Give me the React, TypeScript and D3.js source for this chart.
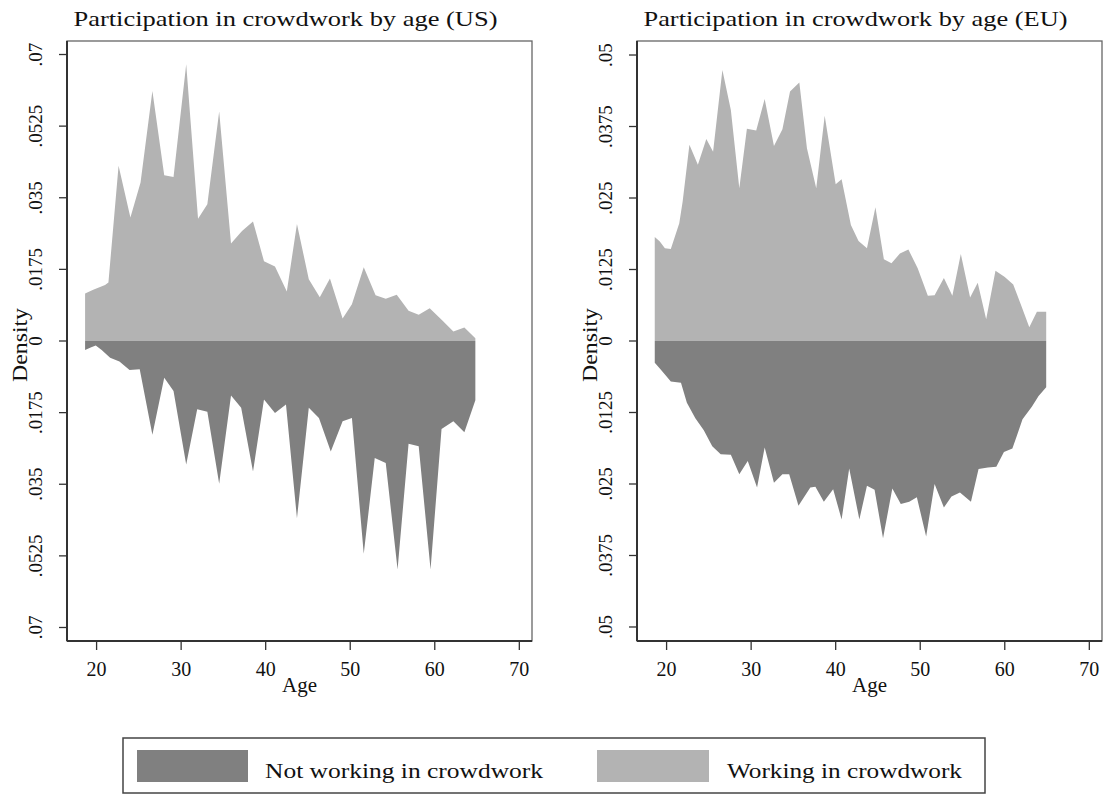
import React from 'react';
import * as d3 from 'd3';

// ---------- DATA ----------
const panelTitles = ['Participation in crowdwork by age (US)', 'Participation in crowdwork by age (EU)'];
const legendLabels = ['Not working in crowdwork', 'Working in crowdwork'];
const xTicks = [20, 30, 40, 50, 60, 70];

const usWorkAges = [18.64, 19.6, 21.0, 21.4, 22.6, 24.0, 25.2, 26.6, 28.0, 29.1, 30.6, 32.0, 33.1, 34.5, 35.9, 37.2, 38.5, 39.8, 41.1, 42.5, 43.7, 45.1, 46.4, 47.6, 49.1, 50.2, 51.6, 53.0, 54.2, 55.5, 56.9, 58.1, 59.4, 60.9, 62.2, 63.5, 64.8];
const usWorking = [0.0116, 0.0125, 0.0137, 0.0143, 0.0428, 0.0302, 0.0387, 0.0611, 0.0405, 0.0401, 0.0676, 0.0299, 0.0334, 0.0561, 0.0238, 0.0269, 0.0292, 0.0195, 0.0182, 0.0121, 0.0286, 0.0151, 0.0107, 0.0153, 0.0055, 0.0090, 0.0180, 0.0112, 0.0103, 0.0113, 0.0074, 0.0064, 0.0080, 0.0050, 0.0023, 0.0033, 0.0007];

const usNotAges = [18.64, 19.3, 19.9, 20.6, 21.6, 22.7, 23.9, 25.1, 26.6, 28.0, 29.1, 30.6, 31.9, 33.1, 34.5, 35.9, 37.1, 38.5, 39.8, 41.1, 42.4, 43.7, 45.1, 46.3, 47.7, 49.1, 50.2, 51.6, 52.9, 54.2, 55.6, 56.9, 58.1, 59.5, 60.8, 62.2, 63.5, 64.8];
const usNotWorking = [0.0022, 0.0016, 0.0011, 0.0022, 0.0041, 0.0050, 0.0071, 0.0069, 0.0229, 0.0090, 0.0122, 0.0302, 0.0167, 0.0173, 0.0349, 0.0133, 0.0163, 0.0319, 0.0143, 0.0176, 0.0155, 0.0433, 0.0163, 0.0188, 0.0270, 0.0196, 0.0188, 0.0520, 0.0286, 0.0298, 0.0558, 0.0251, 0.0257, 0.0558, 0.0215, 0.0196, 0.0223, 0.0145];

const euWorkAges = [18.6, 19.2, 19.8, 20.5, 21.5, 21.9, 22.7, 23.7, 24.7, 25.5, 26.6, 27.6, 28.6, 29.5, 30.6, 31.6, 32.7, 33.7, 34.6, 35.7, 36.6, 37.7, 38.7, 40.0, 40.7, 41.8, 42.7, 43.7, 44.7, 45.7, 46.6, 47.6, 48.6, 49.7, 50.9, 51.7, 52.8, 53.8, 54.8, 55.9, 56.8, 57.8, 58.9, 60.0, 61.0, 62.0, 62.9, 63.8, 64.9];
const euWorking = [0.0182, 0.0174, 0.0162, 0.0161, 0.0206, 0.0244, 0.0343, 0.0308, 0.0353, 0.0331, 0.0474, 0.0404, 0.0267, 0.0371, 0.0368, 0.0423, 0.0341, 0.0370, 0.0436, 0.0452, 0.0337, 0.0267, 0.0394, 0.0274, 0.0283, 0.0203, 0.0175, 0.0162, 0.0234, 0.0143, 0.0136, 0.0153, 0.0160, 0.0127, 0.0079, 0.0080, 0.0110, 0.0079, 0.0152, 0.0076, 0.0102, 0.0038, 0.0123, 0.0112, 0.0099, 0.0060, 0.0024, 0.0051, 0.0051];

const euNotAges = [18.6, 19.3, 20.5, 21.7, 22.4, 23.4, 24.4, 25.4, 26.4, 27.6, 28.6, 29.6, 30.7, 31.6, 32.7, 33.7, 34.5, 35.6, 37.0, 37.6, 38.6, 39.7, 40.7, 41.6, 42.8, 43.7, 44.6, 45.6, 46.7, 47.7, 48.7, 49.6, 50.7, 51.7, 52.8, 53.7, 54.7, 56.0, 56.9, 58.0, 59.0, 59.9, 60.9, 62.1, 63.2, 64.0, 64.9];
const euNotWorking = [0.0038, 0.0050, 0.0071, 0.0073, 0.0108, 0.0135, 0.0156, 0.0184, 0.0198, 0.0199, 0.0233, 0.0210, 0.0256, 0.0186, 0.0248, 0.0233, 0.0233, 0.0288, 0.0256, 0.0255, 0.0281, 0.0259, 0.0312, 0.0223, 0.0312, 0.0253, 0.0260, 0.0345, 0.0258, 0.0285, 0.0281, 0.0273, 0.0342, 0.0250, 0.0291, 0.0272, 0.0265, 0.0281, 0.0224, 0.0221, 0.0220, 0.0194, 0.0188, 0.0137, 0.0115, 0.0096, 0.0081];

const usYTicks = [0.07, 0.0525, 0.035, 0.0175, 0, -0.0175, -0.035, -0.0525, -0.07];
const usYTickLabels = ['.07', '.0525', '.035', '.0175', '0', '.0175', '.035', '.0525', '.07'];
const euYTicks = [0.05, 0.0375, 0.025, 0.0125, 0, -0.0125, -0.025, -0.0375, -0.05];
const euYTickLabels = ['.05', '.0375', '.025', '.0125', '0', '.0125', '.025', '.0375', '.05'];

const LIGHT = '#b3b3b3';
const DARK = '#808080';
const SERIF = '"Liberation Serif", "Times New Roman", serif';

type PanelProps = {
  left: number;
  title: string;
  workAges: number[];
  working: number[];
  notAges: number[];
  notWorking: number[];
  yMax: number;
  yTicks: number[];
  yTickLabels: string[];
};

function Panel(p: PanelProps) {
  const width = 465;
  const top = 41;
  const bottom = 641;
  const x = d3.scaleLinear().domain([16.5, 71.5]).range([p.left, p.left + width]);
  const y = d3.scaleLinear().domain([-p.yMax, p.yMax]).range([bottom, top]);

  const upArea = d3.area<number>()
    .x((_, i) => x(p.workAges[i]))
    .y0(() => y(0))
    .y1((d) => y(d));
  const downArea = d3.area<number>()
    .x((_, i) => x(p.notAges[i]))
    .y0(() => y(0))
    .y1((d) => y(-d));

  const cx = p.left + width / 2;
  return (
    <g>
      <text x={cx - 14} y={26} textAnchor="middle" fontFamily={SERIF} fontSize={22}
        textLength={424} lengthAdjust="spacingAndGlyphs" fill="#111">{p.title}</text>
      <path d={downArea(p.notWorking) || ''} fill={DARK} />
      <path d={upArea(p.working) || ''} fill={LIGHT} />
      <rect x={p.left} y={top} width={width} height={bottom - top} fill="none" stroke="#666" strokeWidth={1.3} />
      <line x1={p.left} x2={p.left} y1={top} y2={bottom} stroke="#333" strokeWidth={2} />
      <line x1={p.left} x2={p.left + width} y1={bottom} y2={bottom} stroke="#333" strokeWidth={2} />
      {p.yTicks.map((t, i) => (
        <g key={'y' + i}>
          <line x1={p.left - 8} x2={p.left} y1={y(t)} y2={y(t)} stroke="#333" strokeWidth={1.3} />
          <text transform={`translate(${p.left - 32},${y(t)}) rotate(-90)`} textAnchor="middle" dy="0.35em"
            fontFamily={SERIF} fontSize={19} fill="#111">{p.yTickLabels[i]}</text>
        </g>
      ))}
      {xTicks.map((t) => (
        <g key={'x' + t}>
          <line x1={x(t)} x2={x(t)} y1={bottom} y2={bottom + 9} stroke="#333" strokeWidth={1.3} />
          <text x={x(t)} y={676} textAnchor="middle" fontFamily={SERIF} fontSize={20} fill="#111">{t}</text>
        </g>
      ))}
      <text x={cx} y={692} textAnchor="middle" fontFamily={SERIF} fontSize={21} fill="#111">Age</text>
      <text transform={`translate(${p.left - 47},${345}) rotate(-90)`} textAnchor="middle" dy="0.35em"
        fontFamily={SERIF} fontSize={21} textLength={74} lengthAdjust="spacingAndGlyphs" fill="#111">Density</text>
    </g>
  );
}

export default function App() {
  return (
    <svg width={1107} height={794} style={{ position: 'absolute', left: 0, top: 0, background: '#fff' }}>
      <rect x={0} y={0} width={1107} height={794} fill="#fff" />
      <Panel left={67} title={panelTitles[0]} workAges={usWorkAges} working={usWorking}
        notAges={usNotAges} notWorking={usNotWorking} yMax={0.0733} yTicks={usYTicks} yTickLabels={usYTickLabels} />
      <Panel left={637} title={panelTitles[1]} workAges={euWorkAges} working={euWorking}
        notAges={euNotAges} notWorking={euNotWorking} yMax={0.05245} yTicks={euYTicks} yTickLabels={euYTickLabels} />
      <g>
        <rect x={123} y={738} width={862} height={55} fill="#fff" stroke="#444" strokeWidth={1.5} />
        <rect x={137} y={750} width={111} height={32} fill={DARK} />
        <text x={265} y={778} fontFamily={SERIF} fontSize={22} textLength={278} lengthAdjust="spacingAndGlyphs" fill="#111">{legendLabels[0]}</text>
        <rect x={597} y={750} width={112} height={32} fill={LIGHT} />
        <text x={727} y={778} fontFamily={SERIF} fontSize={22} textLength={235} lengthAdjust="spacingAndGlyphs" fill="#111">{legendLabels[1]}</text>
      </g>
    </svg>
  );
}
